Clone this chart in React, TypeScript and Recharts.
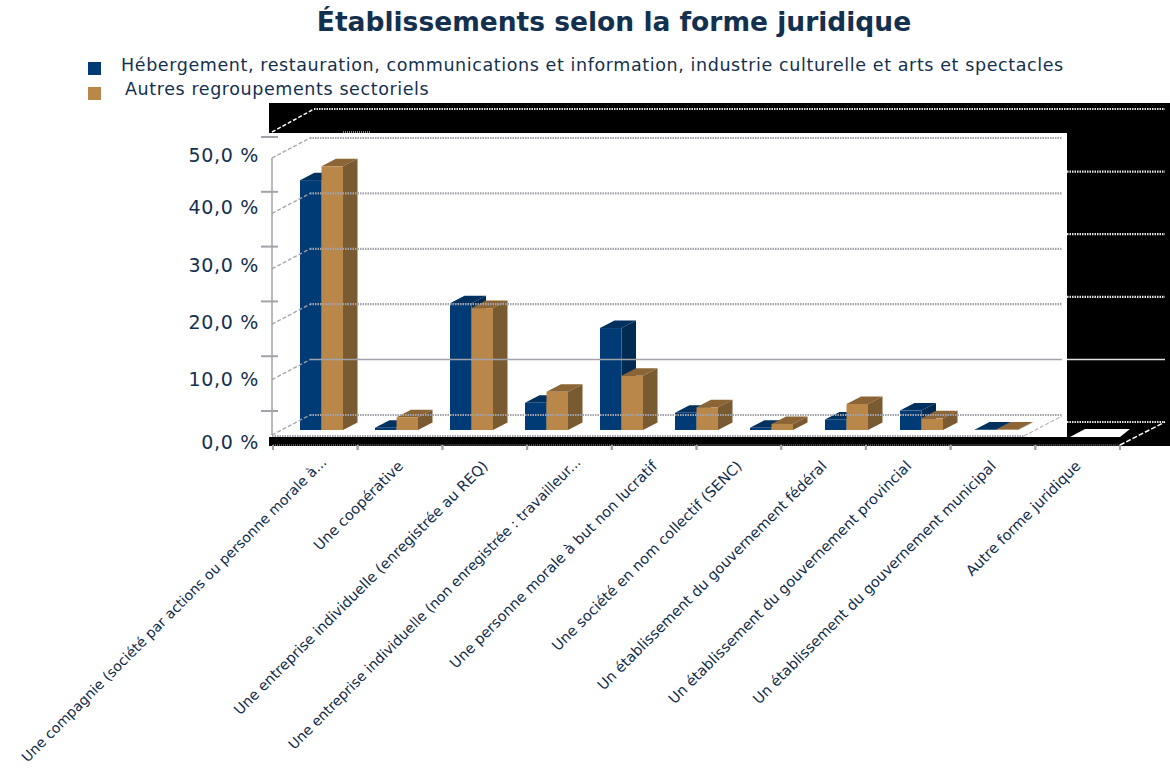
import { Bar, BarChart, Legend, ReferenceLine, XAxis, YAxis } from "recharts";

const categories = [
  "Une compagnie (société par actions ou personne morale à...",
  "Une coopérative",
  "Une entreprise individuelle (enregistrée au REQ)",
  "Une entreprise individuelle (non enregistrée : travailleur...",
  "Une personne morale à but non lucratif",
  "Une société en nom collectif (SENC)",
  "Un établissement du gouvernement fédéral",
  "Un établissement du gouvernement provincial",
  "Un établissement du gouvernement municipal",
  "Autre forme juridique",
];
const hebergement = [45.1, 0.4, 22.9, 4.9, 18.4, 3.1, 0.4, 1.9, 3.5, 0.1];
const autres = [47.6, 2.3, 22, 6.9, 9.8, 4.1, 1.1, 4.7, 2.1, 0.1];
const yTicks = [0, 10, 20, 30, 40, 50];

const data = categories.map((name, i) => ({
  name,
  hebergement: hebergement[i],
  autres: autres[i],
}));

const INK = "#14304f";
const GRID = "#a2a2aa";
const GHOST = "#e2e2e6";
const DEPTH_X = 14.5;
const DEPTH_Y = 7.5;

// the y labels sit unevenly under their tick marks in the original
const labelDrop: Record<number, number> = { 50: 25, 40: 22, 30: 25, 20: 28, 10: 30, 0: 38 };

function Bar3D({ x, y, width, height, fill, topFill, sideFill }: any) {
  const r = x + width;
  const b = y + height;
  return (
    <g>
      <polygon
        points={`${x},${y} ${x + DEPTH_X},${y - DEPTH_Y} ${r + DEPTH_X},${y - DEPTH_Y} ${r},${y}`}
        fill={topFill}
      />
      <polygon
        points={`${r},${y} ${r + DEPTH_X},${y - DEPTH_Y} ${r + DEPTH_X},${b - DEPTH_Y} ${r},${b}`}
        fill={sideFill}
      />
      <rect x={x} y={y} width={width} height={height} fill={fill} />
    </g>
  );
}

function YTick({ y, payload }: any) {
  return (
    <g>
      <line x1={261} x2={278} y1={y} y2={y} stroke={GRID} strokeWidth={2} />
      <text
        x={259}
        y={y + labelDrop[payload.value]}
        textAnchor="end"
        fontFamily="DejaVu Sans"
        fontSize={19}
        letterSpacing={0.7}
        fill={INK}
      >
        {payload.value.toFixed(1).replace(".", ",")} %
      </text>
    </g>
  );
}

function XTick({ x, payload }: any) {
  const half = payload.offset ?? 42;
  // the two truncated labels run a bit further up and right, and tighter
  const cut = payload.value.endsWith("...");
  return (
    <g>
      <line x1={x - half} x2={x + half} y1={445} y2={445} stroke={GRID} strokeDasharray="1 1" />
      <line x1={x - half} x2={x - half} y1={445} y2={450} stroke={GRID} strokeWidth={2} />
      <line x1={x + half} x2={x + half} y1={445} y2={450} stroke={GRID} strokeWidth={2} />
      <text
        transform={`translate(${x + (cut ? 12 : 4)} ${cut ? 463 : 467}) rotate(-45)`}
        textAnchor="end"
        fontFamily="DejaVu Sans"
        fontSize={cut ? 14 : 14.5}
        fill="#0f2c4c"
      >
        {payload.value}
      </text>
    </g>
  );
}

function LegendBox({ payload }: any) {
  return (
    <div
      style={{
        position: "relative",
        height: 50,
        fontFamily: "DejaVu Sans",
        fontSize: 17.5,
        letterSpacing: 0.6,
        color: INK,
      }}
    >
      {(payload ?? []).map((item: any, i: number) => (
        <div key={item.value} style={{ position: "absolute", top: i * 25, left: 0, whiteSpace: "nowrap" }}>
          <span
            style={{
              position: "absolute",
              left: 88,
              top: 10,
              width: 13,
              height: 13,
              background: item.color,
            }}
          />
          <span style={{ position: "absolute", left: 121 + i * 4, top: 1 - i, lineHeight: "24px" }}>
            {item.value}
          </span>
        </div>
      ))}
    </div>
  );
}

export default function App() {
  return (
    <div style={{ position: "absolute", left: 0, top: 0, width: 1170, height: 773, background: "#fff" }}>
      <BarChart
        width={1170}
        height={773}
        data={data}
        barSize={21.5}
        barGap={0}
        margin={{ top: 153, right: 108, bottom: 313, left: 260 }}
      >
        <text
          x={614}
          y={31}
          textAnchor="middle"
          fontFamily="DejaVu Sans"
          fontWeight="bold"
          fontSize={26.5}
          fill={INK}
        >
          Établissements selon la forme juridique
        </text>

        {/* black leftovers around the plot, as in the source image */}
        <rect x={269} y={103} width={898} height={30} fill="#000" />
        <rect x={1067} y={103} width={103} height={343} fill="#000" />
        <rect x={269} y={437} width={798} height={9} fill="#000" />
        <polygon points="1070,437 1085,429 1130,429 1120,437" fill="#fff" />
        <line x1={272} y1={132} x2={314} y2={109} stroke="#fff" strokeWidth={1.5} strokeDasharray="4 2" />
        <line x1={1120} y1={445} x2={1165} y2={422} stroke="#fff" strokeWidth={1.5} strokeDasharray="5 2" />
        <line x1={343} y1={132} x2={370} y2={132} stroke="#fff" strokeDasharray="1 1" />
        <line x1={314} y1={109} x2={1067} y2={109} stroke={GHOST} strokeWidth={2.2} strokeDasharray="1.5 1" />

        {/* plot frame */}
        <line x1={272} y1={158} x2={272} y2={435} stroke={GRID} strokeWidth={1.5} />
        <line x1={272} y1={436} x2={1024} y2={436} stroke={GRID} strokeWidth={2} strokeDasharray="1.5 1" />
        <line x1={1024} y1={436} x2={1062} y2={416} stroke={GRID} strokeDasharray="4 2" />

        <XAxis dataKey="name" hide padding={{ left: -26, right: 28 }} />
        <XAxis
          xAxisId="labels"
          dataKey="name"
          height={30}
          axisLine={false}
          tickLine={false}
          interval={0}
          tick={<XTick />}
          padding={{ left: -37, right: -58 }}
        />
        <YAxis hide domain={[0, 50]} />
        <YAxis
          yAxisId="marks"
          width={50}
          domain={[0, 50]}
          allowDataOverflow
          ticks={yTicks}
          axisLine={false}
          tickLine={false}
          tick={<YTick />}
          padding={{ top: -16, bottom: 19 }}
        />
        <YAxis yAxisId="back" hide domain={[0, 50]} allowDataOverflow padding={{ top: -15, bottom: 15 }} />
        <YAxis yAxisId="wall" hide domain={[0, 50]} allowDataOverflow padding={{ top: 5, bottom: -5 }} />
        <YAxis yAxisId="ghost" hide domain={[0, 50]} allowDataOverflow padding={{ top: -44, bottom: 8 }} />

        {yTicks.map((v) => (
          <ReferenceLine
            key={`back-${v}`}
            yAxisId="back"
            y={v}
            ifOverflow="visible"
            stroke={GRID}
            strokeWidth={v === 10 ? 1.5 : 2.2}
            strokeDasharray={v === 10 ? undefined : "1.5 1"}
          />
        ))}
        {yTicks.map((v) => (
          <ReferenceLine
            key={`wall-${v}`}
            yAxisId="wall"
            y={v}
            ifOverflow="visible"
            shape={(p: any) => (
              <line x1={272} y1={p.y1} x2={310} y2={p.y1 - 20} stroke={GRID} strokeWidth={1.3} strokeDasharray="4 2" />
            )}
          />
        ))}
        {yTicks.map((v) => (
          <ReferenceLine
            key={`ghost-${v}`}
            yAxisId="ghost"
            y={v}
            ifOverflow="visible"
            shape={(p: any) => (
              <line
                x1={1067}
                y1={p.y1}
                x2={1165}
                y2={p.y1}
                stroke={GHOST}
                strokeWidth={v === 10 ? 1.5 : 2.2}
                strokeDasharray={v === 10 ? undefined : "1.5 1"}
              />
            )}
          />
        ))}

        <Bar
          dataKey="hebergement"
          name="Hébergement, restauration, communications et information, industrie culturelle et arts et spectacles"
          fill="#003b76"
          isAnimationActive={false}
          shape={(p: any) => <Bar3D {...p} topFill="#00315f" sideFill="#012b50" />}
        />
        <Bar
          dataKey="autres"
          name="Autres regroupements sectoriels"
          fill="#b9874a"
          isAnimationActive={false}
          shape={(p: any) => <Bar3D {...p} topFill="#8b6536" sideFill="#7a5a30" />}
        />
        <Legend
          layout="horizontal"
          verticalAlign="middle"
          itemSorter={null}
          content={<LegendBox />}
          wrapperStyle={{ left: 0, top: 52, width: 1170, height: 50 }}
        />
      </BarChart>
    </div>
  );
}
